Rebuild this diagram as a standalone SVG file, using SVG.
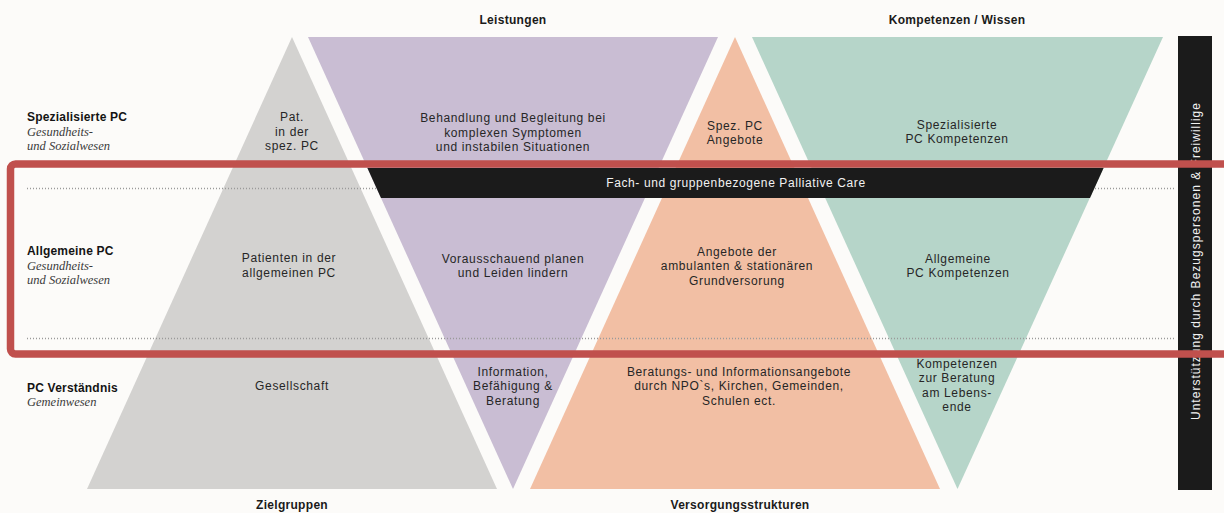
<svg xmlns="http://www.w3.org/2000/svg" width="1224" height="513" viewBox="0 0 1224 513">
  <style>
    .t { font-family: "Liberation Sans", Arial, sans-serif; font-size: 12px; fill: #262626; text-anchor: middle; letter-spacing: 0.65px; }
    .h { font-family: "Liberation Sans", Arial, sans-serif; font-size: 12px; font-weight: bold; fill: #1a1a1a; text-anchor: middle; letter-spacing: 0.3px; }
    .rl { font-family: "Liberation Sans", Arial, sans-serif; font-size: 12px; font-weight: bold; fill: #141414; letter-spacing: 0.2px; }
    .ri { font-family: "Liberation Serif", "Times New Roman", serif; font-size: 12.5px; font-style: italic; fill: #3a3a3a; }
    .w { font-family: "Liberation Sans", Arial, sans-serif; font-size: 12px; fill: #f2f2f2; text-anchor: middle; letter-spacing: 0.6px; }
    .dot { stroke: #9a9a9a; stroke-width: 1.3; stroke-dasharray: 1 2; fill: none; }
  </style>
  <rect x="0" y="0" width="1224" height="513" fill="#fcfbf9"/>

  <g id="headers">
    <text class="h" x="513" y="24">Leistungen</text>
    <text class="h" x="957" y="24">Kompetenzen / Wissen</text>
    <text class="h" x="292" y="509">Zielgruppen</text>
    <text class="h" x="740" y="509">Versorgungsstrukturen</text>
  </g>

  <g id="row-labels">
    <text class="rl" x="27" y="121">Spezialisierte PC</text>
    <text class="ri" x="27" y="136">Gesundheits-</text>
    <text class="ri" x="27" y="150">und Sozialwesen</text>
    <text class="rl" x="27" y="255">Allgemeine PC</text>
    <text class="ri" x="27" y="270">Gesundheits-</text>
    <text class="ri" x="27" y="284">und Sozialwesen</text>
    <text class="rl" x="27" y="392">PC Verständnis</text>
    <text class="ri" x="27" y="406">Gemeinwesen</text>
  </g>

  <g id="zielgruppen">
    <polygon points="292,37 497,489 87,489" fill="#d3d2d0"/>
    <text class="t" x="292" y="121">Pat.</text>
    <text class="t" x="292" y="135.5">in der</text>
    <text class="t" x="292" y="150">spez. PC</text>
    <text class="t" x="289" y="262">Patienten in der</text>
    <text class="t" x="289" y="277">allgemeinen PC</text>
    <text class="t" x="292" y="390">Gesellschaft</text>
  </g>

  <g id="leistungen">
    <polygon points="308,37 718,37 513,489" fill="#c9bdd3"/>
    <text class="t" x="513" y="122">Behandlung und Begleitung bei</text>
    <text class="t" x="513" y="137">komplexen Symptomen</text>
    <text class="t" x="513" y="151">und instabilen Situationen</text>
    <text class="t" x="513" y="263">Vorausschauend planen</text>
    <text class="t" x="513" y="277">und Leiden lindern</text>
    <text class="t" x="513" y="376">Information,</text>
    <text class="t" x="513" y="390">Befähigung &amp;</text>
    <text class="t" x="513" y="405">Beratung</text>
  </g>

  <g id="versorgungsstrukturen">
    <polygon points="735,37 940,489 530,489" fill="#f2bfa4"/>
    <text class="t" x="735" y="130">Spez. PC</text>
    <text class="t" x="735" y="144">Angebote</text>
    <text class="t" x="737" y="256">Angebote der</text>
    <text class="t" x="737" y="270">ambulanten &amp; stationären</text>
    <text class="t" x="737" y="285">Grundversorung</text>
    <text class="t" x="739" y="376">Beratungs- und Informationsangebote</text>
    <text class="t" x="739" y="390">durch NPO`s, Kirchen, Gemeinden,</text>
    <text class="t" x="739" y="405">Schulen ect.</text>
  </g>

  <g id="kompetenzen">
    <polygon points="752,37 1163,37 957.5,489" fill="#b6d5c9"/>
    <text class="t" x="957" y="129">Spezialisierte</text>
    <text class="t" x="957" y="143">PC Kompetenzen</text>
    <text class="t" x="958" y="263">Allgemeine</text>
    <text class="t" x="958" y="277">PC Kompetenzen</text>
    <text class="t" x="957" y="368">Kompetenzen</text>
    <text class="t" x="957" y="382">zur Beratung</text>
    <text class="t" x="957" y="397">am Lebens-</text>
    <text class="t" x="957" y="411">ende</text>
  </g>

  <g id="level-lines">
    <line class="dot" x1="27" y1="188.5" x2="1176" y2="188.5"/>
    <line class="dot" x1="27" y1="338.5" x2="1176" y2="338.5"/>
  </g>

  <g id="fach-band">
    <polygon points="367.4,168 1103.6,168 1090,198 381,198" fill="#1b1b1b"/>
    <text class="w" x="736" y="187">Fach- und gruppenbezogene Palliative Care</text>
  </g>

  <g id="support-bar">
    <rect x="1178" y="36" width="34" height="454" fill="#1b1b1b"/>
    <text class="w" transform="translate(1199.5,261.5) rotate(-90)" x="0" y="0" font-size="13" textLength="317" lengthAdjust="spacing" style="letter-spacing:0">Unterstützung durch Bezugspersonen &amp; Freiwillige</text>
  </g>

  <g id="highlight-frame">
    <rect x="10.5" y="164" width="1240" height="190" rx="5" fill="none" stroke="#c0504d" stroke-width="7.5"/>
  </g>
</svg>
